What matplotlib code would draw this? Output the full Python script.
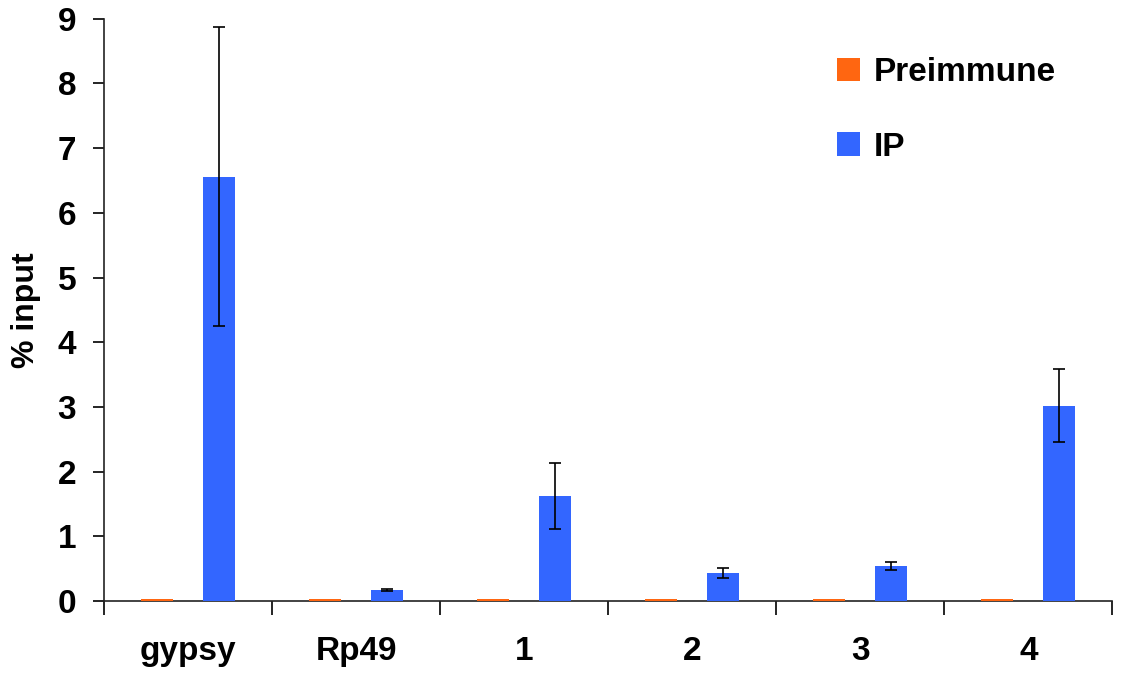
import matplotlib.pyplot as plt
import numpy as np

categories = ["gypsy", "Rp49", "1", "2", "3", "4"]
preimmune = [0.03, 0.03, 0.03, 0.03, 0.03, 0.03]
ip = [6.56, 0.17, 1.63, 0.43, 0.54, 3.02]
ip_err = [2.31, 0.02, 0.51, 0.075, 0.06, 0.565]

plt.rcParams['font.family'] = ['Liberation Sans', 'DejaVu Sans']
plt.rcParams['font.weight'] = 'bold'

fig = plt.figure(figsize=(11.38, 6.77), dpi=100)
ax = fig.add_axes([0.0914, 0.1123, 0.886, 0.86])

x = np.arange(len(categories))
w = 0.19
off = 0.185
ax.bar(x - off, preimmune, w, color='#FF6611', label='Preimmune', zorder=3)
ax.bar(x + off, ip, w, color='#3366FF', label='IP', zorder=3)
ax.errorbar(x + off, ip, yerr=ip_err, fmt='none', ecolor='black',
            elinewidth=1.2, capsize=4.5, capthick=1.2, zorder=4)

ax.set_xlim(-0.5, len(categories) - 0.5)
ax.set_ylim(0, 9)
ax.set_yticks(range(10))
ax.tick_params(axis='y', labelsize=24, length=8, width=1.2, direction='out', pad=12)

# group separators as major ticks, category names on minor ticks
ax.set_xticks(np.arange(len(categories) + 1) - 0.5)
ax.set_xticklabels([])
ax.set_xticks(x, minor=True)
ax.set_xticklabels(categories, minor=True)
ax.tick_params(axis='x', which='major', length=10, width=1.2, direction='out')
ax.tick_params(axis='x', which='minor', length=0, labelsize=24, pad=25)

for s in ['top', 'right']:
    ax.spines[s].set_visible(False)
for s in ['left', 'bottom']:
    ax.spines[s].set_linewidth(1.2)
    ax.spines[s].set_color('#222222')

ax.set_ylabel('% input', fontsize=23, fontweight='bold', labelpad=12)

leg = ax.legend(loc='upper left', bbox_to_anchor=(0.697, 0.985), frameon=False,
                fontsize=24, handlelength=0.7, handleheight=0.7,
                labelspacing=1.3, handletextpad=0.4)

fig.savefig('out.png', dpi=100)
